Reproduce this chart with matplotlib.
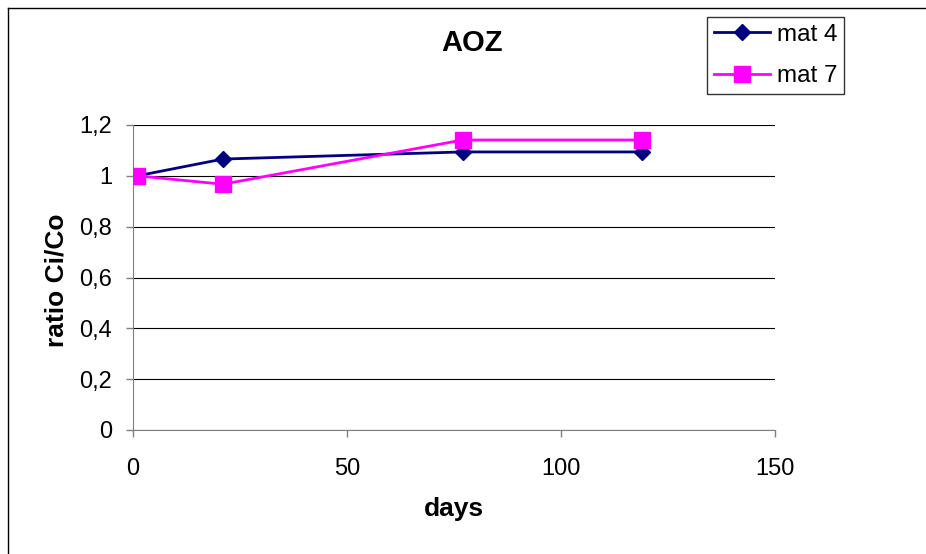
import matplotlib
matplotlib.use("Agg")
import matplotlib.pyplot as plt
from matplotlib.lines import Line2D
from matplotlib.ticker import FuncFormatter

plt.rcParams['font.family'] = ['Liberation Sans', 'DejaVu Sans']

days = [1, 21, 77, 119]
mat4 = [1.0, 1.066, 1.094, 1.094]
mat7 = [1.0, 0.967, 1.141, 1.141]
series_names = ["mat 4", "mat 7"]
yticks = [0, 0.2, 0.4, 0.6, 0.8, 1.0, 1.2]
xticks = [0, 50, 100, 150]

fig = plt.figure(figsize=(9.26, 5.54), dpi=100)
ax = fig.add_axes([133/926, 1-430/554, (775-133)/926, (430-125)/554])

# outer chart frame
fig.add_artist(Line2D([8/926, 8/926], [0, 1-8/554], transform=fig.transFigure, color='black', lw=1))
fig.add_artist(Line2D([8/926, 1], [1-8/554, 1-8/554], transform=fig.transFigure, color='black', lw=1))

ax.plot(days, mat4, color='#000080', marker='D', markersize=8, lw=2, label=series_names[0], zorder=3)
ax.plot(days, mat7, color='#FF00FF', marker='s', markersize=11, lw=2, label=series_names[1], zorder=4)

ax.set_xlim(0, 150)
ax.set_ylim(0, 1.2)
ax.set_xticks(xticks)
ax.set_yticks(yticks)
ax.yaxis.set_major_formatter(FuncFormatter(lambda v, p: ('%g' % round(v, 1)).replace('.', ',')))
ax.grid(axis='y', color='black', lw=0.8)
ax.set_axisbelow(True)
for s in ['top', 'right']:
    ax.spines[s].set_visible(False)
ax.spines['left'].set_color('#808080')
ax.spines['bottom'].set_color('#808080')
ax.tick_params(axis='both', labelsize=17, color='#808080', length=5, width=1)
ax.tick_params(axis='x', pad=15)
ax.tick_params(axis='y', pad=10)

ax.set_xlabel('days', fontsize=19, fontweight='bold')
ax.xaxis.set_label_coords((454-133)/(775-133), -(509-430)/(430-125))
ax.xaxis.label.set_va('center')
ax.set_ylabel('ratio Ci/Co', fontsize=19, fontweight='bold')
ax.yaxis.set_label_coords(-(133-56)/(775-133), (430-280)/(430-125))
ax.yaxis.label.set_va('center')
fig.text(472/926, 1-43/554, 'AOZ', fontsize=21, fontweight='bold', ha='center', va='center')

leg = fig.legend(loc='upper left', bbox_to_anchor=(707/926, 1-17/554), fontsize=17.5,
                 frameon=True, fancybox=False, edgecolor='black', handlelength=2.3,
                 borderpad=0.28, labelspacing=0.8, handletextpad=0.3, borderaxespad=0)
leg.get_frame().set_linewidth(1)

fig.savefig('out.png', dpi=100)
